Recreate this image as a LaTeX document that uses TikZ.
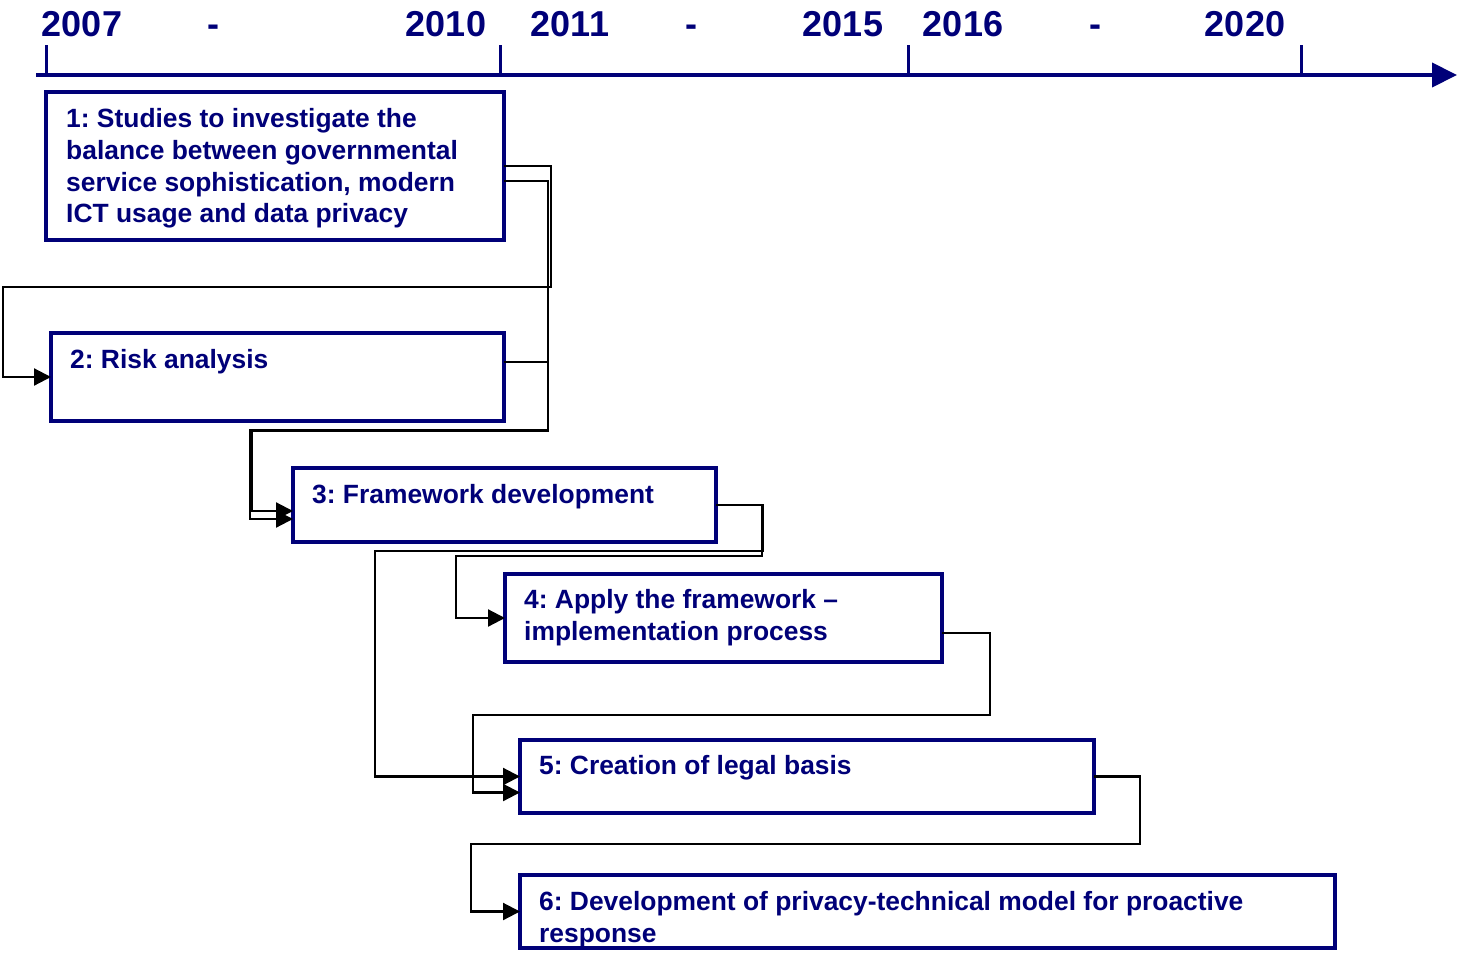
\documentclass[tikz,border=0pt]{standalone}
\usepackage{fontspec}
\setmainfont{Liberation Sans}
\usetikzlibrary{arrows.meta,calc}
\definecolor{navy}{RGB}{0,0,120}
\frenchspacing
\begin{document}
\begin{tikzpicture}[x=1pt,y=-1pt,
  box/.style={draw=navy, line width=3.5pt, rectangle, anchor=north west, inner sep=0pt, outer sep=0pt},
  boxtext/.style={anchor=north west, inner sep=0pt, text=navy, font=\fontsize{26.4}{31.7}\selectfont\bfseries, align=left},
  year/.style={text=navy, font=\fontsize{36}{40}\selectfont\bfseries, inner sep=0pt, anchor=base},
  conn/.style={draw=black, line width=2.2pt, -{Triangle[length=17pt,width=17pt]}},
  tickmark/.style={draw=navy, line width=3pt}]
\useasboundingbox (0,0) rectangle (1461,953);

% timeline
\coordinate (axs) at (36,75);
\coordinate (axe) at (1457,75);
\draw[navy, line width=4pt, -{Triangle[length=25pt,width=24pt]}] (axs) -- (axe);
\draw[tickmark] (46,45) -- (46,75);
\draw[tickmark] (500,45) -- (500,75);
\draw[tickmark] (908,45) -- (908,75);
\draw[tickmark] (1301,45) -- (1301,75);
\node[year] (y1) at (82,36) {2007};
\node[year] (d1) at (213,36) {-};
\node[year] (y2) at (446,36) {2010};
\node[year] (y3) at (570,36) {2011};
\node[year] (d2) at (691,36) {-};
\node[year] (y4) at (843,36) {2015};
\node[year] (y5) at (963,36) {2016};
\node[year] (d3) at (1095,36) {-};
\node[year] (y6) at (1245,36) {2020};

% boxes
\node[box, minimum width=458pt, minimum height=148pt] (b1) at (46,92) {};
\node[box, minimum width=453pt, minimum height=88pt] (b2) at (51,333) {};
\node[box, minimum width=423pt, minimum height=74pt] (b3) at (293,468) {};
\node[box, minimum width=437pt, minimum height=88pt] (b4) at (505,574) {};
\node[box, minimum width=574pt, minimum height=73pt] (b5) at (520,740) {};
\node[box, minimum width=815pt, minimum height=73pt] (b6) at (520,875) {};

\node[boxtext] (t1) at (66,108.5) {1: Studies to investigate the\\balance between governmental\\service sophistication, modern\\ICT usage and data privacy};
\node[boxtext] (t2) at (70,349.5) {2: Risk analysis};
\node[boxtext] (t3) at (312,484.5) {3: Framework development};
\node[boxtext] (t4) at (524,589.5) {4: Apply the framework --\\implementation process};
\node[boxtext] (t5) at (539,755.5) {5: Creation of legal basis};
\node[boxtext] (t6) at (539,891.5) {6: Development of privacy-technical model for proactive\\response};

% connectors
\draw[conn] (b1.east) -- ++(47,0) |- (3,287) |- (b2.west);
\draw[conn] ([yshift=-15pt]b1.east) -- ++(44,0) |- (250,430) |- ([yshift=-14pt]b3.west);
\draw[conn] ([yshift=15pt]b2.east) -- ++(44,0) |- (252,431) |- ([yshift=-6pt]b3.west);
\draw[conn] (b3.east) -- ++(47,0) |- (375,551) |- (b5.west);
\draw[conn] (b3.east) -- ++(46,0) |- (456,556) |- (b4.west);
\draw[conn] ([yshift=-15pt]b4.east) -- ++(48,0) |- (473,715) |- ([yshift=-16pt]b5.west);
\draw[conn] (b5.east) -- ++(46,0) |- (471,844) |- (b6.west);
\end{tikzpicture}
\end{document}
